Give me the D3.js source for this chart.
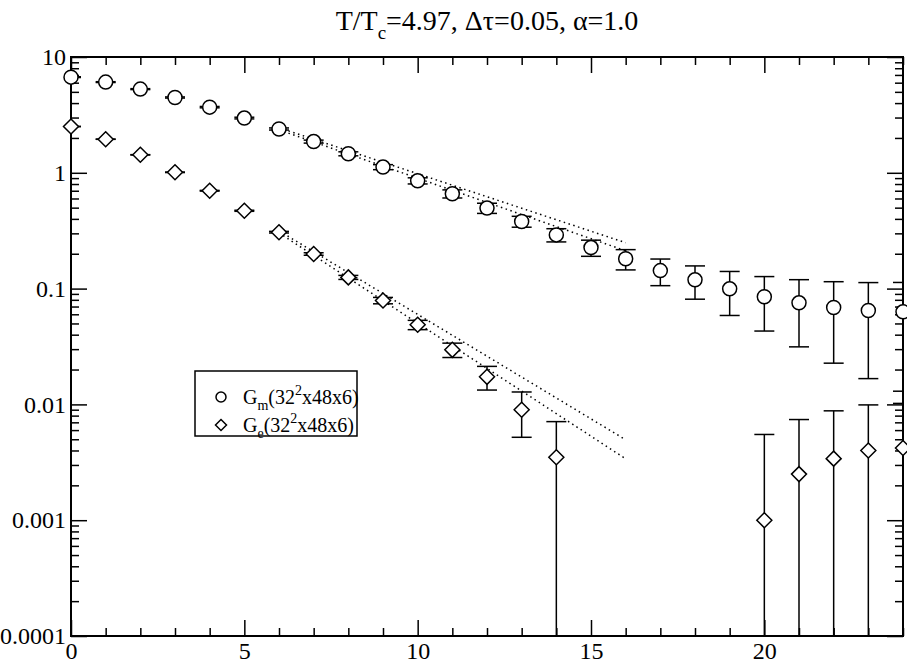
<!DOCTYPE html>
<html>
<head>
<meta charset="utf-8">
<script src="https://cdn.jsdelivr.net/npm/d3@7"></script>
<style>
  body { margin: 0; background: #fff; }
  text { font-family: "Liberation Serif", "Times New Roman", Times, serif; fill: #000; }
</style>
</head>
<body>
<script>
// values
var tau   = [0, 1, 2, 3, 4, 5, 6, 7, 8, 9, 10, 11, 12, 13, 14, 15, 16, 17, 18, 19, 20, 21, 22, 23, 24];
var gmVal = [6.7, 6.07, 5.28, 4.47, 3.69, 2.97, 2.39, 1.86, 1.46, 1.12, 0.853, 0.659, 0.496, 0.38, 0.291,
             0.226, 0.181, 0.143, 0.119, 0.0996, 0.085, 0.0754, 0.0687, 0.0647, 0.063];
var gmErr = [0.05, 0.05, 0.05, 0.05, 0.05, 0.05, 0.05, 0.055, 0.058, 0.056, 0.052, 0.053, 0.05, 0.041, 0.038,
             0.036, 0.036, 0.037, 0.038, 0.041, 0.042, 0.044, 0.046, 0.048, 0.05];

var geTau = [0, 1, 2, 3, 4, 5, 6, 7, 8, 9, 10, 11, 12, 13, 14, 20, 21, 22, 23, 24];
var geVal = [2.51, 1.95, 1.43, 1.01, 0.70, 0.47, 0.307, 0.199, 0.125, 0.0789, 0.0487, 0.0296, 0.0173, 0.009, 0.0035,
             0.001, 0.0025, 0.0034, 0.004, 0.0042];
var geErr = [0.005, 0.005, 0.005, 0.005, 0.005, 0.005, 0.005, 0.005, 0.005, 0.005, 0.0045, 0.0042, 0.004, 0.0038, 0.0036,
             0.0045, 0.0049, 0.0054, 0.0059, 0.006];

// dotted fit lines, end points
var fitTau  = [6, 16];
var gmFitHi = [2.45, 0.249];
var gmFitLo = [2.35, 0.212];
var geFitHi = [0.3155, 0.00495];
var geFitLo = [0.303, 0.00339];

var xTicks = [0, 5, 10, 15, 20];
var yTicks = [0.0001, 0.001, 0.01, 0.1, 1, 10];
var yTickLabels = ["0.0001", "0.001", "0.01", "0.1", "1", "10"];

// set the dimensions and margins of the graph
var margin = {top: 57, right: 4, bottom: 27, left: 71},
    width = 907 - margin.left - margin.right,
    height = 663 - margin.top - margin.bottom;

var x = d3.scaleLinear().domain([0, 24]).range([0, width]);
var y = d3.scaleLog().domain([0.0001, 10]).range([height, 0]);

var root = d3.select("body").append("svg")
    .attr("width", 907)
    .attr("height", 663);

// title
var title = root.append("text")
    .attr("x", margin.left + width / 2)
    .attr("y", 30)
    .attr("text-anchor", "middle")
    .style("font-size", "28px");
title.append("tspan").text("T/T");
title.append("tspan").attr("dy", 9).style("font-size", "19px").text("c");
title.append("tspan").attr("dy", -9).text("=4.97, \u0394\u03c4=0.05, \u03b1=1.0");

var svg = root.append("g")
    .attr("transform", "translate(" + margin.left + "," + margin.top + ")");

svg.append("clipPath").attr("id", "clip")
  .append("rect").attr("width", width).attr("height", height);

// ticks on all four sides, pointing in
var minorX = d3.range(0, 25).filter(function(d) { return d % 5 != 0; });
var minorY = y.ticks().filter(function(d) { return yTicks.indexOf(d) < 0; });

function tidy(g) {
  g.select(".domain").remove();
  g.selectAll("line").attr("stroke", "#000").attr("stroke-width", 1.5);
  g.attr("font-family", null).attr("font-size", null);
}

svg.append("g").attr("transform", "translate(0," + height + ")")
    .call(d3.axisBottom(x).tickValues(xTicks).tickSize(-16).tickPadding(6).tickFormat(d3.format("d")))
    .call(tidy)
    .selectAll("text").style("font-size", "24px");
svg.append("g").attr("transform", "translate(0," + height + ")")
    .call(d3.axisBottom(x).tickValues(minorX).tickSize(-8).tickFormat(""))
    .call(tidy);
svg.append("g")
    .call(d3.axisTop(x).tickValues(xTicks).tickSize(-16).tickFormat(""))
    .call(tidy);
svg.append("g")
    .call(d3.axisTop(x).tickValues(minorX).tickSize(-8).tickFormat(""))
    .call(tidy);

svg.append("g")
    .call(d3.axisLeft(y).tickValues(yTicks).tickSize(-16).tickPadding(5)
      .tickFormat(function(d, i) { return yTickLabels[i]; }))
    .call(tidy)
    .selectAll("text").style("font-size", "24px");
svg.append("g")
    .call(d3.axisLeft(y).tickValues(minorY).tickSize(-8).tickFormat(""))
    .call(tidy);
svg.append("g").attr("transform", "translate(" + width + ",0)")
    .call(d3.axisRight(y).tickValues(yTicks).tickSize(-16).tickFormat(""))
    .call(tidy);
svg.append("g").attr("transform", "translate(" + width + ",0)")
    .call(d3.axisRight(y).tickValues(minorY).tickSize(-8).tickFormat(""))
    .call(tidy);

// frame
svg.append("rect")
    .attr("width", width).attr("height", height)
    .attr("fill", "none").attr("stroke", "#000").attr("stroke-width", 2);

// dotted fits
var fitLine = d3.line()
    .x(function(d) { return x(d[0]); })
    .y(function(d) { return y(d[1]); });
[gmFitHi, gmFitLo, geFitHi, geFitLo].forEach(function(f) {
  svg.append("path")
      .datum(fitTau.map(function(t, i) { return [t, f[i]]; }))
      .attr("d", fitLine)
      .attr("fill", "none")
      .attr("stroke", "#000")
      .attr("stroke-width", 1.5)
      .attr("stroke-dasharray", "1.5,3.5");
});

// error bars
function errorBars(ts, vals, errs) {
  var pts = ts.map(function(t, i) { return {t: t, v: vals[i], e: errs[i]}; });
  var g = svg.append("g").attr("clip-path", "url(#clip)")
      .attr("stroke", "#000").attr("stroke-width", 1.5);
  function top(d) { return y(d.v + d.e); }
  function bot(d) { return d.v - d.e > 0 ? y(d.v - d.e) : height + 5; }
  g.selectAll(".ev").data(pts).enter().append("line")
      .attr("x1", function(d) { return x(d.t); }).attr("x2", function(d) { return x(d.t); })
      .attr("y1", top).attr("y2", bot);
  g.selectAll(".ct").data(pts).enter().append("line")
      .attr("x1", function(d) { return x(d.t) - 10; }).attr("x2", function(d) { return x(d.t) + 10; })
      .attr("y1", top).attr("y2", top);
  g.selectAll(".cb").data(pts.filter(function(d) { return d.v - d.e > 0; })).enter().append("line")
      .attr("x1", function(d) { return x(d.t) - 10; }).attr("x2", function(d) { return x(d.t) + 10; })
      .attr("y1", bot).attr("y2", bot);
  return pts;
}

var gmPts = errorBars(tau, gmVal, gmErr);
var gePts = errorBars(geTau, geVal, geErr);

// markers
svg.selectAll(".gm").data(gmPts).enter().append("circle")
    .attr("cx", function(d) { return x(d.t); })
    .attr("cy", function(d) { return y(d.v); })
    .attr("r", 7)
    .attr("fill", "#fff").attr("stroke", "#000").attr("stroke-width", 1.5);

var diamond = "M0,-7.5L7.5,0L0,7.5L-7.5,0Z";
svg.selectAll(".ge").data(gePts).enter().append("path")
    .attr("d", diamond)
    .attr("transform", function(d) { return "translate(" + x(d.t) + "," + y(d.v) + ")"; })
    .attr("fill", "#fff").attr("stroke", "#000").attr("stroke-width", 1.5);

// legend
var legend = root.append("g");
legend.append("rect")
    .attr("x", 195).attr("y", 371).attr("width", 162).attr("height", 65)
    .attr("fill", "#fff").attr("stroke", "#000").attr("stroke-width", 1.5);
legend.append("circle").attr("cx", 221).attr("cy", 397).attr("r", 5)
    .attr("fill", "#fff").attr("stroke", "#000").attr("stroke-width", 1.5);
legend.append("path").attr("d", "M0,-5.5L5.5,0L0,5.5L-5.5,0Z")
    .attr("transform", "translate(221,425)")
    .attr("fill", "#fff").attr("stroke", "#000").attr("stroke-width", 1.5);

function legendText(yy, sub) {
  var t = legend.append("text").attr("x", 243).attr("y", yy).style("font-size", "20px");
  t.append("tspan").text("G");
  t.append("tspan").attr("dy", 6).style("font-size", "14px").text(sub);
  t.append("tspan").attr("dy", -6).text("(32");
  t.append("tspan").attr("dy", -9).style("font-size", "14px").text("2");
  t.append("tspan").attr("dy", 9).text("x48x6)");
}
legendText(404, "m");
legendText(432, "e");
</script>
</body>
</html>
